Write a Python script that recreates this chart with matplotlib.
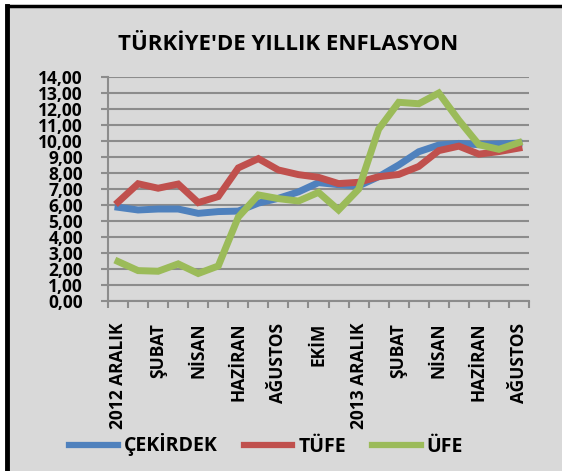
import numpy as np
import matplotlib
matplotlib.use('Agg')
import matplotlib.pyplot as plt
from matplotlib.lines import Line2D

# Aralık 2012 - Ağustos 2014, aylık yıllık enflasyon (%)
months = ['2012 ARALIK', 'OCAK', 'ŞUBAT', 'MART', 'NİSAN', 'MAYIS', 'HAZİRAN',
          'TEMMUZ', 'AĞUSTOS', 'EYLÜL', 'EKİM', 'KASIM', '2013 ARALIK', 'OCAK',
          'ŞUBAT', 'MART', 'NİSAN', 'MAYIS', 'HAZİRAN', 'TEMMUZ', 'AĞUSTOS']
cekirdek = [5.84, 5.67, 5.73, 5.73, 5.46, 5.57, 5.60, 6.10, 6.40, 6.80, 7.38,
            7.25, 7.17, 7.75, 8.48, 9.31, 9.73, 9.83, 9.75, 9.80, 9.85]
tufe = [6.16, 7.31, 7.03, 7.29, 6.13, 6.51, 8.30, 8.88, 8.17, 7.88, 7.71,
        7.32, 7.40, 7.75, 7.89, 8.39, 9.38, 9.66, 9.16, 9.32, 9.54]
ufe = [2.45, 1.88, 1.84, 2.30, 1.70, 2.17, 5.23, 6.61, 6.38, 6.23, 6.77,
       5.67, 6.97, 10.72, 12.40, 12.31, 12.98, 11.28, 9.75, 9.46, 9.88]
series_names = ['ÇEKİRDEK', 'TÜFE', 'ÜFE']
colors = ['#4F81BD', '#C0504D', '#9BBB59']

plt.rcParams['font.family'] = ['Open Sans', 'DejaVu Sans']
plt.rcParams['font.weight'] = 'bold'

bg = '#D9D9D9'
grid_c = '#8C8C8C'

fig = plt.figure(figsize=(5.62, 4.71), dpi=100)
fig.patch.set_facecolor('white')
# background panel with black left/top border
fig.add_artist(plt.Rectangle((7 / 562, 0), 1, 1 - 6 / 471, transform=fig.transFigure,
                             facecolor=bg, edgecolor='none', zorder=-10))
fig.add_artist(Line2D([7 / 562, 7 / 562], [0, 1 - 6 / 471], transform=fig.transFigure,
                      color='black', lw=3.5))
fig.add_artist(Line2D([7 / 562, 1], [1 - 6 / 471, 1 - 6 / 471], transform=fig.transFigure,
                      color='black', lw=2.5))

ax = fig.add_axes([108 / 562, 1 - 300.7 / 471, 421 / 562, 224 / 471])
ax.set_facecolor(bg)

x = np.arange(len(months))
for vals, name, c in zip([cekirdek, tufe, ufe], series_names, colors):
    ax.plot(x, vals, color=c, lw=5, label=name, solid_joinstyle='miter', zorder=3)

ax.set_xlim(-0.5, len(months) - 0.5)
ax.set_ylim(0, 14)
ax.set_yticks(np.arange(0, 15, 1))
ax.set_yticklabels([f'{v:.2f}'.replace('.', ',') for v in np.arange(0, 15, 1)],
                   fontsize=12.5, fontweight='bold')
ax.yaxis.grid(True, color=grid_c, lw=1.5)
ax.set_axisbelow(True)

# category boundaries as ticks, labels on every second month
ax.set_xticks(np.arange(-0.5, len(months), 1))
ax.set_xticklabels([])
ax.set_xticks(x[::2], minor=True)
ax.set_xticklabels(months[::2], minor=True, rotation=90, fontsize=12.5,
                   fontweight='bold', va='top')
ax.tick_params(axis='x', which='major', length=5, width=1.5, color=grid_c, direction='out')
ax.tick_params(axis='x', which='minor', length=0, pad=16)
ax.tick_params(axis='y', length=5, width=1.5, color=grid_c, pad=13)

for side in ['top', 'right']:
    ax.spines[side].set_visible(False)
for side in ['left', 'bottom']:
    ax.spines[side].set_color(grid_c)
    ax.spines[side].set_linewidth(1.5)

fig.text(288 / 562, 1 - 45 / 471, "TÜRKİYE'DE YILLIK ENFLASYON", ha='center',
         va='center', fontsize=16, fontweight='bold')

handles = [Line2D([], [], color=c, lw=4.5) for c in colors]
fig.legend(handles, series_names, loc='center', bbox_to_anchor=(266 / 562, 1 - 445 / 471),
           ncol=3, frameon=False, handlelength=2.5, handletextpad=0.3,
           columnspacing=1.35, prop={'weight': 'bold', 'size': 14})

fig.savefig('out.png', dpi=100, facecolor=fig.get_facecolor())
